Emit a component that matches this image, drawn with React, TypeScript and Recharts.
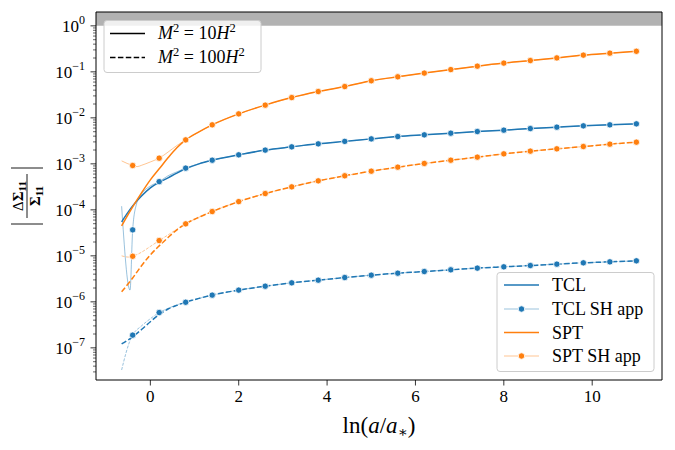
import { LineChart, Line, XAxis, YAxis, ReferenceArea } from 'recharts';

const FONT = '"Liberation Serif", "DejaVu Serif", serif';
const BLUE = '#1f77b4';
const ORANGE = '#ff7f0e';

const X_DOMAIN = [-1.23, 11.58];
const Y_DOMAIN = [2e-8, 2];
const X_TICKS = [0, 2, 4, 6, 8, 10];

// full curves (M^2 = 10 H^2 solid, 100 H^2 dashed)
const theoryX = [-0.65, -0.4, -0.2, 0, 0.2, 0.4, 0.6, 0.8, 1.1, 1.4, 2.0, 2.6, 3.2, 3.8, 4.4, 5.0, 5.6, 6.2, 6.8, 7.4, 8.0, 8.6, 9.2, 9.8, 10.4, 11.0];
const tclM10 = [5.5e-5, 1.22e-4, 2.0e-4, 3.0e-4, 3.96e-4, 4.97e-4, 6.3e-4, 7.8e-4, 1.0e-3, 1.2e-3, 1.57e-3, 1.99e-3, 2.34e-3, 2.72e-3, 3.08e-3, 3.49e-3, 3.92e-3, 4.27e-3, 4.64e-3, 5.04e-3, 5.4e-3, 5.85e-3, 6.28e-3, 6.7e-3, 7.05e-3, 7.4e-3];
const tclM100 = [1.22e-7, 1.74e-7, 2.5e-7, 3.7e-7, 5.3e-7, 7.0e-7, 8.4e-7, 9.8e-7, 1.19e-6, 1.4e-6, 1.8e-6, 2.19e-6, 2.59e-6, 2.96e-6, 3.38e-6, 3.8e-6, 4.2e-6, 4.56e-6, 4.97e-6, 5.41e-6, 5.77e-6, 6.16e-6, 6.6e-6, 7.05e-6, 7.41e-6, 7.79e-6];
const sptM10 = [4.5e-5, 1.16e-4, 2.34e-4, 4.49e-4, 7.8e-4, 1.35e-3, 2.23e-3, 3.32e-3, 4.96e-3, 7.05e-3, 1.22e-2, 1.89e-2, 2.76e-2, 3.73e-2, 4.79e-2, 6.4e-2, 7.8e-2, 9.4e-2, 0.112, 0.133, 0.155, 0.176, 0.201, 0.231, 0.255, 0.28];
const sptM100 = [1.65e-6, 3.3e-6, 6.1e-6, 1.05e-5, 1.65e-5, 2.5e-5, 3.67e-5, 4.96e-5, 6.9e-5, 9.18e-5, 1.51e-4, 2.26e-4, 3.16e-4, 4.27e-4, 5.5e-4, 6.93e-4, 8.48e-4, 1.02e-3, 1.2e-3, 1.4e-3, 1.65e-3, 1.89e-3, 2.12e-3, 2.38e-3, 2.68e-3, 2.96e-3];

// SH approximation: early part differs, later it sits on the full curve
const markerX = [-0.4, 0.2, 0.8, 1.4, 2.0, 2.6, 3.2, 3.8, 4.4, 5.0, 5.6, 6.2, 6.8, 7.4, 8.0, 8.6, 9.2, 9.8, 10.4, 11.0];
const tclShM10X = [-0.65, -0.46, -0.4, -0.32, -0.2, 0, 0.2, 0.4, 0.6, 0.8];
const tclShM10Y = [1.2e-4, 1.8e-6, 3.67e-5, 1.27e-4, 2.2e-4, 3.3e-4, 4.1e-4, 5.5e-4, 6.7e-4, 8.07e-4];
const tclShM100X = [-0.65, -0.55, -0.48, -0.4, -0.2, 0, 0.2, 0.4, 0.6, 0.8];
const tclShM100Y = [3.3e-8, 7.8e-8, 1.28e-7, 1.89e-7, 3.0e-7, 4.3e-7, 5.85e-7, 7.2e-7, 8.6e-7, 9.8e-7];
const sptShM10X = [-0.65, -0.4, -0.3, -0.2, 0, 0.2, 0.4, 0.6, 0.8];
const sptShM10Y = [1.16e-3, 9.2e-4, 8.7e-4, 9.3e-4, 1.1e-3, 1.33e-3, 1.8e-3, 2.5e-3, 3.32e-3];
const sptShM100X = [-0.65, -0.5, -0.4, -0.2, 0, 0.2, 0.4, 0.6, 0.8];
const sptShM100Y = [1.0e-5, 9.4e-6, 9.8e-6, 1.2e-5, 1.6e-5, 2.15e-5, 2.85e-5, 3.8e-5, 4.96e-5];

const Y_TICKS: number[] = [];
for (let e = -8; e <= 0; e++) {
  for (let m = 1; m <= 9; m++) {
    const v = m * Math.pow(10, e);
    if (v > Y_DOMAIN[0] * 1.01 && v < Y_DOMAIN[1] * 0.99) Y_TICKS.push(v);
  }
}

const pts = (xs: number[], ys: number[]) => xs.map((x, i) => ({ x, y: ys[i] }));
const lateX = theoryX.filter((x) => x >= 1.4);
const shPts = (xs: number[], ys: number[], full: number[]) => [
  ...pts(xs, ys),
  ...lateX.map((x) => ({ x, y: full[theoryX.indexOf(x)] })),
];

const tclFull10 = pts(theoryX, tclM10);
const tclFull100 = pts(theoryX, tclM100);
const sptFull10 = pts(theoryX, sptM10);
const sptFull100 = pts(theoryX, sptM100);
const tclSh10 = shPts(tclShM10X, tclShM10Y, tclM10);
const tclSh100 = shPts(tclShM100X, tclShM100Y, tclM100);
const sptSh10 = shPts(sptShM10X, sptShM10Y, sptM10);
const sptSh100 = shPts(sptShM100X, sptShM100Y, sptM100);

const marker = (color: string) => (props: any) => {
  const { cx, cy, payload, index } = props;
  const isMarker = markerX.some((m) => Math.abs(m - payload.x) < 1e-6);
  if (!isMarker) return <g key={index} />;
  return <circle key={index} cx={cx} cy={cy} r={3.2} fill={color} stroke="#fff" strokeWidth={0.8} />;
};

const YTick = (props: any) => {
  const { x, y, payload } = props;
  const lg = Math.log10(payload.value);
  const exp = Math.round(lg);
  const major = Math.abs(lg - exp) < 1e-6;
  return (
    <g>
      <line x1={x} x2={x - (major ? 5.5 : 3)} y1={y} y2={y} stroke="#000" strokeWidth={major ? 0.8 : 0.6} />
      {major && (
        <text x={x - 11} y={y} dy="0.35em" textAnchor="end" fontSize={17} fontFamily={FONT} fill="#000">
          10
          <tspan fontSize={12} dy={-8}>{exp < 0 ? `\u2212${-exp}` : `${exp}`}</tspan>
        </text>
      )}
    </g>
  );
};

const DASH = '5.5 2.4';
const THIN_DASH = '3 1.4';

export default function App() {
  return (
    <div style={{ position: 'absolute', left: 0, top: 0, width: 675, height: 450, background: '#fff' }}>
      <LineChart width={675} height={450} margin={{ top: 12, right: 13, bottom: 0, left: 0 }}>
        <XAxis
          type="number"
          dataKey="x"
          domain={X_DOMAIN}
          ticks={X_TICKS}
          allowDataOverflow
          interval={0}
          height={70}
          axisLine={false}
          tickSize={5.5}
          tickMargin={4}
          tickLine={{ stroke: '#000', strokeWidth: 0.8 }}
          tick={{ fontSize: 17, fill: '#000', fontFamily: FONT }}
        />
        <YAxis
          type="number"
          dataKey="y"
          scale="log"
          domain={Y_DOMAIN}
          ticks={Y_TICKS}
          allowDataOverflow
          interval={0}
          width={96}
          axisLine={false}
          tickLine={false}
          tickSize={0}
          tickMargin={0}
          tick={(p: any) => <YTick {...p} />}
        />
        <ReferenceArea y1={1} y2={2} fill="#000" fillOpacity={0.3} stroke="none" ifOverflow="visible" />

        <Line data={tclFull10} dataKey="y" type="monotone" stroke={BLUE} strokeWidth={1.5} dot={false} activeDot={false} isAnimationActive={false} />
        <Line data={tclFull100} dataKey="y" type="monotone" stroke={BLUE} strokeWidth={1.5} strokeDasharray={DASH} dot={false} activeDot={false} isAnimationActive={false} />
        <Line data={tclSh10} dataKey="y" type="monotone" stroke={BLUE} strokeOpacity={0.5} strokeWidth={0.9} dot={marker(BLUE)} activeDot={false} isAnimationActive={false} />
        <Line data={tclSh100} dataKey="y" type="monotone" stroke={BLUE} strokeOpacity={0.5} strokeWidth={0.9} strokeDasharray={THIN_DASH} dot={marker(BLUE)} activeDot={false} isAnimationActive={false} />

        <Line data={sptFull10} dataKey="y" type="monotone" stroke={ORANGE} strokeWidth={1.5} dot={false} activeDot={false} isAnimationActive={false} />
        <Line data={sptFull100} dataKey="y" type="monotone" stroke={ORANGE} strokeWidth={1.5} strokeDasharray={DASH} dot={false} activeDot={false} isAnimationActive={false} />
        <Line data={sptSh10} dataKey="y" type="monotone" stroke={ORANGE} strokeOpacity={0.5} strokeWidth={0.9} dot={marker(ORANGE)} activeDot={false} isAnimationActive={false} />
        <Line data={sptSh100} dataKey="y" type="monotone" stroke={ORANGE} strokeOpacity={0.5} strokeWidth={0.9} strokeDasharray={THIN_DASH} dot={marker(ORANGE)} activeDot={false} isAnimationActive={false} />

        <ReferenceArea x1={X_DOMAIN[0]} x2={X_DOMAIN[1]} y1={Y_DOMAIN[0]} y2={Y_DOMAIN[1]} fill="none" stroke="#000" strokeWidth={1} ifOverflow="visible" />
      </LineChart>

      <svg width={675} height={450} style={{ position: 'absolute', left: 0, top: 0, pointerEvents: 'none' }} fontFamily={FONT}>
        {/* y label */}
        <g transform="translate(27,196) rotate(-90)">
          <text x={0} y={-4} textAnchor="middle" fontSize={15}>
            Δ<tspan fontWeight="bold">Σ</tspan>
            <tspan fontSize={11} fontWeight="bold" dy={3}>11</tspan>
          </text>
          <line x1={-22} x2={22} y1={0} y2={0} stroke="#000" strokeWidth={0.9} />
          <text x={0} y={13} textAnchor="middle" fontSize={15}>
            <tspan fontWeight="bold">Σ</tspan>
            <tspan fontSize={11} fontWeight="bold" dy={3}>11</tspan>
          </text>
          <line x1={-28} x2={-28} y1={-16} y2={16} stroke="#000" strokeWidth={0.9} />
          <line x1={28} x2={28} y1={-16} y2={16} stroke="#000" strokeWidth={0.9} />
        </g>

        {/* x label */}
        <text x={379} y={433} textAnchor="middle" fontSize={23}>
          ln(<tspan fontStyle="italic">a</tspan>/<tspan fontStyle="italic">a</tspan>
          <tspan fontSize={15} dy={4}>∗</tspan>
          <tspan dy={-4}>)</tspan>
        </text>

        {/* upper-left legend */}
        <rect x={104} y={20.5} width={157} height={52} rx={3} fill="#fff" fillOpacity={0.8} stroke="#ccc" strokeWidth={1} />
        <line x1={110} x2={145} y1={33.5} y2={33.5} stroke="#000" strokeWidth={1.5} />
        <line x1={110} x2={145} y1={57.5} y2={57.5} stroke="#000" strokeWidth={1.5} strokeDasharray={DASH} />
        <text x={158} y={39} fontSize={18}>
          <tspan fontStyle="italic">M</tspan>
          <tspan fontSize={12.5} dy={-7}>2</tspan>
          <tspan dy={7}> = 10</tspan>
          <tspan fontStyle="italic">H</tspan>
          <tspan fontSize={12.5} dy={-7}>2</tspan>
        </text>
        <text x={158} y={63} fontSize={18}>
          <tspan fontStyle="italic">M</tspan>
          <tspan fontSize={12.5} dy={-7}>2</tspan>
          <tspan dy={7}> = 100</tspan>
          <tspan fontStyle="italic">H</tspan>
          <tspan fontSize={12.5} dy={-7}>2</tspan>
        </text>

        {/* lower-right legend */}
        <rect x={497} y={272.5} width={157} height={99} rx={3} fill="#fff" fillOpacity={0.8} stroke="#ccc" strokeWidth={1} />
        <line x1={504} x2={539} y1={285} y2={285} stroke={BLUE} strokeWidth={1.5} />
        <line x1={504} x2={539} y1={309} y2={309} stroke={BLUE} strokeOpacity={0.5} strokeWidth={0.9} />
        <circle cx={521.5} cy={309} r={3.2} fill={BLUE} stroke="#fff" strokeWidth={0.8} />
        <line x1={504} x2={539} y1={332.5} y2={332.5} stroke={ORANGE} strokeWidth={1.5} />
        <line x1={504} x2={539} y1={356} y2={356} stroke={ORANGE} strokeOpacity={0.5} strokeWidth={0.9} />
        <circle cx={521.5} cy={356} r={3.2} fill={ORANGE} stroke="#fff" strokeWidth={0.8} />
        <text x={552} y={291} fontSize={18}>TCL</text>
        <text x={552} y={315} fontSize={18}>TCL SH app</text>
        <text x={552} y={338.5} fontSize={18}>SPT</text>
        <text x={552} y={362} fontSize={18}>SPT SH app</text>
      </svg>
    </div>
  );
}
